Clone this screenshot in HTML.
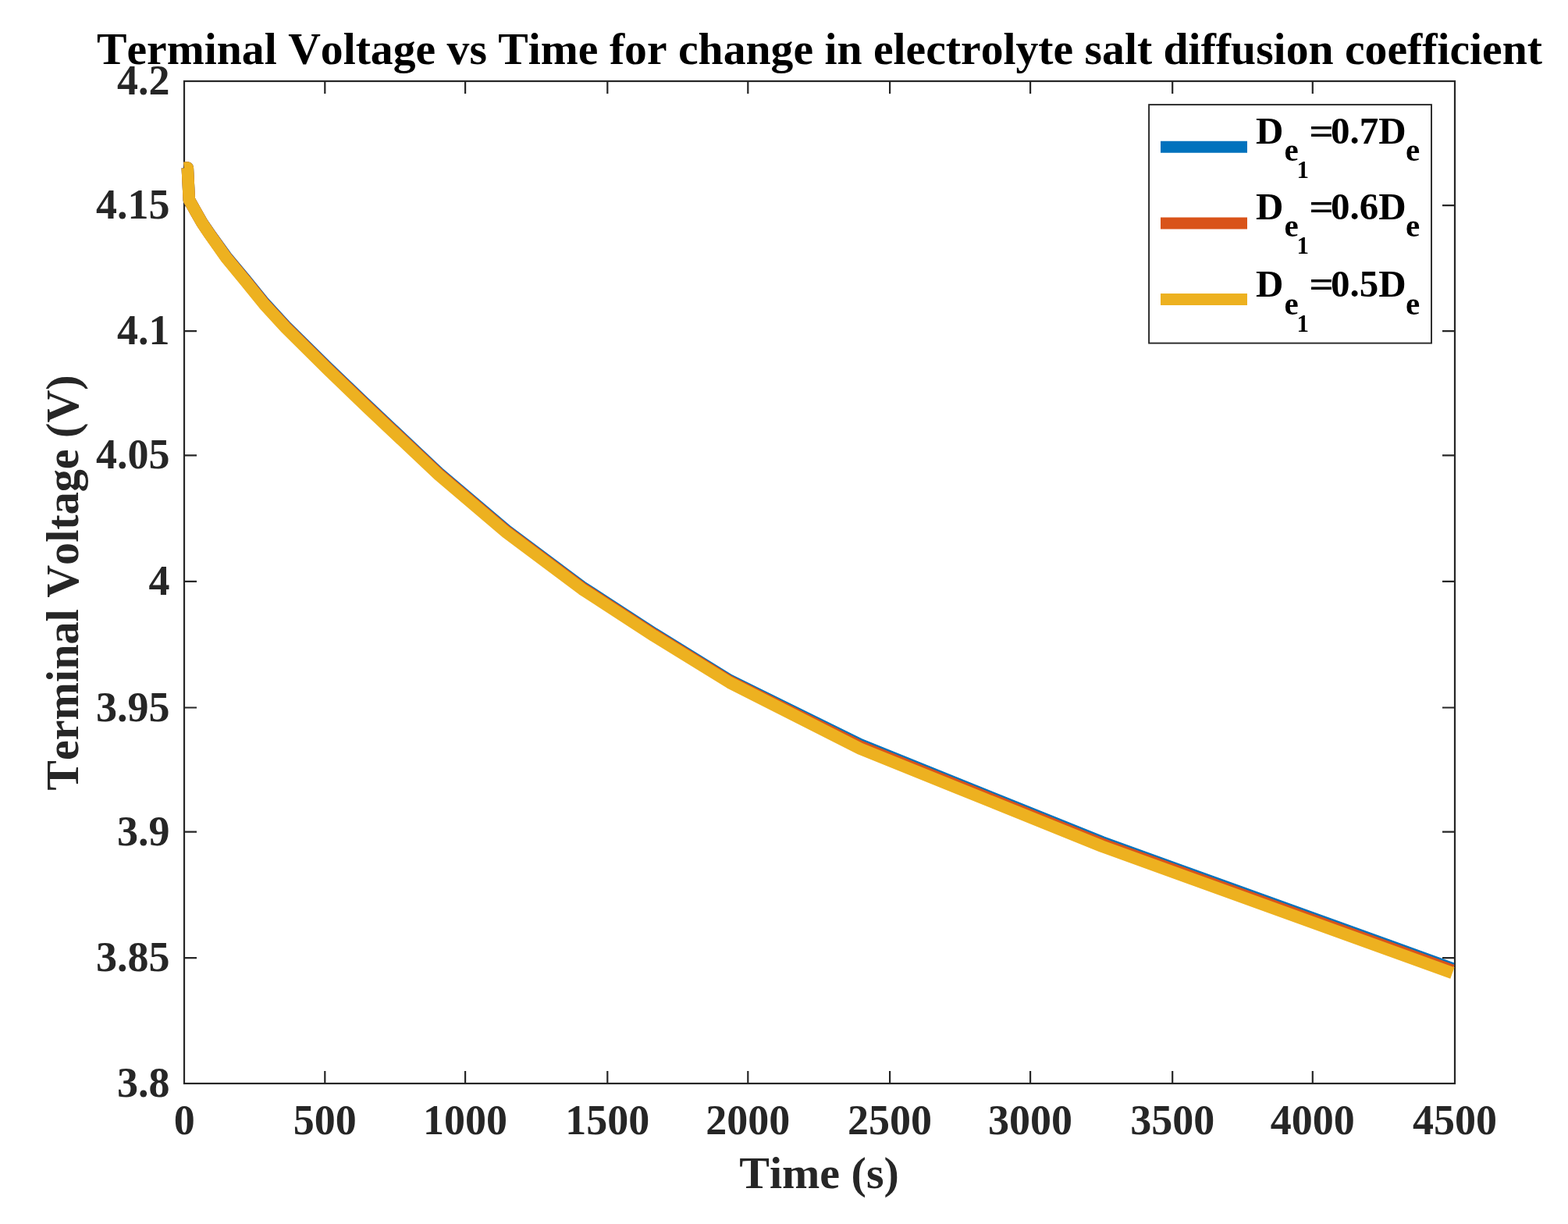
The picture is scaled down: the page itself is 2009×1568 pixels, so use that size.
<!DOCTYPE html>
<html><head><meta charset="utf-8"><title>Terminal Voltage vs Time</title>
<style>html,body{margin:0;padding:0;background:#fff;width:2009px;height:1568px;overflow:hidden}svg{display:block}</style>
</head><body>
<svg width="2009" height="1568" viewBox="0 0 2009 1568">
<rect x="236.0" y="104.0" width="1628.0" height="1284.0" fill="none" stroke="#262626" stroke-width="2.2"/>
<path d="M416.30,1388.0 V1372.0 M416.30,104.0 V120.0 M596.10,1388.0 V1372.0 M596.10,104.0 V120.0 M778.30,1388.0 V1372.0 M778.30,104.0 V120.0 M958.30,1388.0 V1372.0 M958.30,104.0 V120.0 M1140.10,1388.0 V1372.0 M1140.10,104.0 V120.0 M1320.10,1388.0 V1372.0 M1320.10,104.0 V120.0 M1502.20,1388.0 V1372.0 M1502.20,104.0 V120.0 M1681.80,1388.0 V1372.0 M1681.80,104.0 V120.0 M236.0,1227.10 H252.0 M1864.0,1227.10 H1848.0 M236.0,1065.60 H252.0 M1864.0,1065.60 H1848.0 M236.0,906.50 H252.0 M1864.0,906.50 H1848.0 M236.0,744.90 H252.0 M1864.0,744.90 H1848.0 M236.0,583.40 H252.0 M1864.0,583.40 H1848.0 M236.0,424.20 H252.0 M1864.0,424.20 H1848.0 M236.0,263.10 H252.0 M1864.0,263.10 H1848.0" stroke="#262626" stroke-width="2.2" fill="none"/>
<g fill="none" stroke-width="15.5" stroke-linejoin="round" stroke-linecap="butt">
<path d="M236.0,215.5 L240.3,214.9 L242.3,255.9 L252.5,274.0 L259.0,285.4 L268.5,299.2 L289.6,328.4 L314.3,357.9 L338.5,387.8 L366.0,417.7 L420.0,471.0 L470.0,518.9 L562.0,605.6 L649.0,679.4 L746.0,751.9 L838.0,811.7 L935.0,871.5 L1102.0,953.8 L1412.0,1078.8 L1860.9,1240.7" stroke="#0072BD"/>
<path d="M236.0,215.5 L240.3,215.0 L242.3,255.9 L252.5,274.1 L259.0,285.5 L268.5,299.6 L289.6,329.2 L314.3,359.0 L338.5,388.9 L366.0,418.8 L420.0,472.2 L470.0,520.1 L562.0,606.9 L649.0,680.8 L746.0,753.4 L838.0,813.2 L935.0,873.0 L1102.0,956.1 L1412.0,1081.2 L1860.9,1243.2" stroke="#D95319"/>
<path d="M236.0,215.5 L240.3,215.0 L242.3,256.0 L252.5,274.3 L259.0,285.8 L268.5,300.0 L289.6,330.0 L314.3,360.0 L338.5,390.0 L366.0,420.0 L420.0,473.6 L470.0,521.6 L562.0,608.4 L649.0,682.3 L746.0,754.9 L838.0,814.7 L935.0,874.5 L1102.0,959.1 L1412.0,1084.3 L1860.9,1246.5" stroke="#EDB120"/>
</g>
<text x="236.2" y="1453.3" font-family="'Liberation Serif', serif" font-weight="bold" style="font-kerning:none" font-size="54" fill="#262626" text-anchor="middle">0</text>
<text x="416.3" y="1453.3" font-family="'Liberation Serif', serif" font-weight="bold" style="font-kerning:none" font-size="54" fill="#262626" text-anchor="middle">500</text>
<text x="596.1" y="1453.3" font-family="'Liberation Serif', serif" font-weight="bold" style="font-kerning:none" font-size="54" fill="#262626" text-anchor="middle">1000</text>
<text x="778.3" y="1453.3" font-family="'Liberation Serif', serif" font-weight="bold" style="font-kerning:none" font-size="54" fill="#262626" text-anchor="middle">1500</text>
<text x="958.3" y="1453.3" font-family="'Liberation Serif', serif" font-weight="bold" style="font-kerning:none" font-size="54" fill="#262626" text-anchor="middle">2000</text>
<text x="1140.1" y="1453.3" font-family="'Liberation Serif', serif" font-weight="bold" style="font-kerning:none" font-size="54" fill="#262626" text-anchor="middle">2500</text>
<text x="1320.1" y="1453.3" font-family="'Liberation Serif', serif" font-weight="bold" style="font-kerning:none" font-size="54" fill="#262626" text-anchor="middle">3000</text>
<text x="1502.2" y="1453.3" font-family="'Liberation Serif', serif" font-weight="bold" style="font-kerning:none" font-size="54" fill="#262626" text-anchor="middle">3500</text>
<text x="1681.8" y="1453.3" font-family="'Liberation Serif', serif" font-weight="bold" style="font-kerning:none" font-size="54" fill="#262626" text-anchor="middle">4000</text>
<text x="1864.0" y="1453.3" font-family="'Liberation Serif', serif" font-weight="bold" style="font-kerning:none" font-size="54" fill="#262626" text-anchor="middle">4500</text>
<text x="217.5" y="1405.2" font-family="'Liberation Serif', serif" font-weight="bold" style="font-kerning:none" font-size="54" fill="#262626" text-anchor="end">3.8</text>
<text x="217.5" y="1244.1" font-family="'Liberation Serif', serif" font-weight="bold" style="font-kerning:none" font-size="54" fill="#262626" text-anchor="end">3.85</text>
<text x="217.5" y="1082.6" font-family="'Liberation Serif', serif" font-weight="bold" style="font-kerning:none" font-size="54" fill="#262626" text-anchor="end">3.9</text>
<text x="217.5" y="923.5" font-family="'Liberation Serif', serif" font-weight="bold" style="font-kerning:none" font-size="54" fill="#262626" text-anchor="end">3.95</text>
<text x="217.5" y="761.9" font-family="'Liberation Serif', serif" font-weight="bold" style="font-kerning:none" font-size="54" fill="#262626" text-anchor="end">4</text>
<text x="217.5" y="600.4" font-family="'Liberation Serif', serif" font-weight="bold" style="font-kerning:none" font-size="54" fill="#262626" text-anchor="end">4.05</text>
<text x="217.5" y="441.2" font-family="'Liberation Serif', serif" font-weight="bold" style="font-kerning:none" font-size="54" fill="#262626" text-anchor="end">4.1</text>
<text x="217.5" y="280.1" font-family="'Liberation Serif', serif" font-weight="bold" style="font-kerning:none" font-size="54" fill="#262626" text-anchor="end">4.15</text>
<text x="217.5" y="120.9" font-family="'Liberation Serif', serif" font-weight="bold" style="font-kerning:none" font-size="54" fill="#262626" text-anchor="end">4.2</text>
<text x="1050" y="82.3" font-family="'Liberation Serif', serif" font-weight="bold" style="font-kerning:none" font-size="57.7" fill="#000" text-anchor="middle">Terminal Voltage vs Time for change in electrolyte salt diffusion coefficient</text>
<text x="1049.5" y="1522" font-family="'Liberation Serif', serif" font-weight="bold" style="font-kerning:none" font-size="58" fill="#262626" text-anchor="middle">Time (s)</text>
<text transform="translate(100,746.5) rotate(-90)" x="0" y="0" font-family="'Liberation Serif', serif" font-weight="bold" style="font-kerning:none" font-size="58.1" fill="#262626" text-anchor="middle">Terminal Voltage (V)</text>
<rect x="1472.1" y="134.1" width="361.9" height="305.5" fill="#fff" stroke="#262626" stroke-width="1.9"/>
<line x1="1487" y1="188.3" x2="1598" y2="188.3" stroke="#0072BD" stroke-width="15"/>
<text x="1609" y="183.5" font-family="'Liberation Serif', serif" font-weight="bold" style="font-kerning:none" font-size="49" fill="#000">D</text>
<text x="1645.5" y="206.0" font-family="'Liberation Serif', serif" font-weight="bold" style="font-kerning:none" font-size="41" fill="#000">e</text>
<text x="1661.5" y="228.0" font-family="'Liberation Serif', serif" font-weight="bold" style="font-kerning:none" font-size="31" fill="#000">1</text>
<text transform="translate(1677.3,183.5) scale(1.14,1)" x="0" y="0" font-family="'Liberation Serif', serif" font-weight="bold" style="font-kerning:none" font-size="49" fill="#000">=</text>
<text x="1704.9" y="183.5" font-family="'Liberation Serif', serif" font-weight="bold" style="font-kerning:none" font-size="49" fill="#000">0.7D</text>
<text x="1801" y="206.0" font-family="'Liberation Serif', serif" font-weight="bold" style="font-kerning:none" font-size="41" fill="#000">e</text>
<line x1="1487" y1="285.9" x2="1598" y2="285.9" stroke="#D95319" stroke-width="15"/>
<text x="1609" y="280.7" font-family="'Liberation Serif', serif" font-weight="bold" style="font-kerning:none" font-size="49" fill="#000">D</text>
<text x="1645.5" y="303.2" font-family="'Liberation Serif', serif" font-weight="bold" style="font-kerning:none" font-size="41" fill="#000">e</text>
<text x="1661.5" y="325.2" font-family="'Liberation Serif', serif" font-weight="bold" style="font-kerning:none" font-size="31" fill="#000">1</text>
<text transform="translate(1677.3,280.7) scale(1.14,1)" x="0" y="0" font-family="'Liberation Serif', serif" font-weight="bold" style="font-kerning:none" font-size="49" fill="#000">=</text>
<text x="1704.9" y="280.7" font-family="'Liberation Serif', serif" font-weight="bold" style="font-kerning:none" font-size="49" fill="#000">0.6D</text>
<text x="1801" y="303.2" font-family="'Liberation Serif', serif" font-weight="bold" style="font-kerning:none" font-size="41" fill="#000">e</text>
<line x1="1487" y1="383.5" x2="1598" y2="383.5" stroke="#EDB120" stroke-width="15"/>
<text x="1609" y="380.1" font-family="'Liberation Serif', serif" font-weight="bold" style="font-kerning:none" font-size="49" fill="#000">D</text>
<text x="1645.5" y="402.6" font-family="'Liberation Serif', serif" font-weight="bold" style="font-kerning:none" font-size="41" fill="#000">e</text>
<text x="1661.5" y="424.6" font-family="'Liberation Serif', serif" font-weight="bold" style="font-kerning:none" font-size="31" fill="#000">1</text>
<text transform="translate(1677.3,380.1) scale(1.14,1)" x="0" y="0" font-family="'Liberation Serif', serif" font-weight="bold" style="font-kerning:none" font-size="49" fill="#000">=</text>
<text x="1704.9" y="380.1" font-family="'Liberation Serif', serif" font-weight="bold" style="font-kerning:none" font-size="49" fill="#000">0.5D</text>
<text x="1801" y="402.6" font-family="'Liberation Serif', serif" font-weight="bold" style="font-kerning:none" font-size="41" fill="#000">e</text>
</svg>
</body></html>
